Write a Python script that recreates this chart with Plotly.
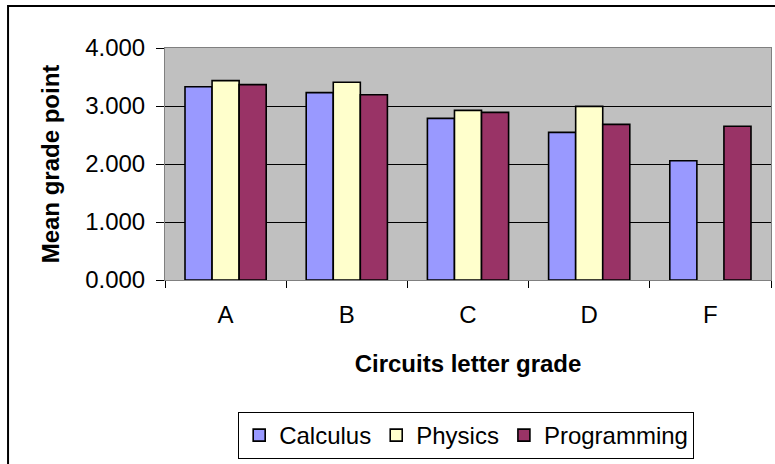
import plotly.graph_objects as go

# ─── Data ────────────────────────────────────────────────────────────────────

grades = ["A", "B", "C", "D", "F"]
calculus = [3.333, 3.230, 2.787, 2.546, 2.057]
physics = [3.437, 3.410, 2.925, 2.994, None]
programming = [3.368, 3.195, 2.890, 2.684, 2.650]

FONT = "Arial, Liberation Sans, sans-serif"

# ─── Figure ──────────────────────────────────────────────────────────────────

fig = go.Figure()

series = [
    ("Calculus", calculus, "#9999FF"),
    ("Physics", physics, "#FFFFCC"),
    ("Programming", programming, "#993366"),
]
for name, vals, color in series:
    fig.add_trace(go.Bar(
        x=grades,
        y=vals,
        name=name,
        marker=dict(color=color, line=dict(color="black", width=1.6)),
    ))

fig.update_layout(
    width=775,
    height=464,
    margin=dict(l=165, r=4, t=48, b=184),
    paper_bgcolor="white",
    plot_bgcolor="#C0C0C0",
    barmode="group",
    bargap=0.33,
    bargroupgap=0,
    font=dict(family=FONT, size=24, color="black"),
    legend=dict(
        orientation="h",
        x=0.497, xanchor="center",
        y=-0.569, yanchor="top",
        bordercolor="black", borderwidth=1,
        font=dict(size=24),
        itemwidth=30,
        tracegroupgap=0,
    ),
    xaxis=dict(
        title=dict(text="<b>Circuits letter grade</b>", font=dict(size=24), standoff=28),
        tickson="boundaries",
        ticks="outside", ticklen=7, tickcolor="black",
        ticklabelstandoff=13,
        showline=True, linecolor="#808080", mirror=True,
        showgrid=False,
    ),
    yaxis=dict(
        title=dict(text="<b>Mean grade point</b>", font=dict(size=24), standoff=18),
        range=[0, 4], dtick=1, tickformat=".3f",
        ticks="outside", ticklen=8, tickcolor="black",
        ticklabelstandoff=6,
        showline=True, linecolor="#808080", mirror=True,
        showgrid=True, gridcolor="black", gridwidth=1,
        zeroline=False,
    ),
    showlegend=True,
)

# outer chart frame (right and bottom edges fall outside the picture)
fig.add_shape(
    type="rect", xref="paper", yref="paper",
    x0=-0.259, x1=1.05, y0=-1.2, y1=1.181,
    line=dict(color="black", width=2),
)

# drop the page's default body margin so the chart sits at the window corner
fig.write_html(
    "out.html",
    config={"displayModeBar": False},
    post_script="document.body.style.margin='0';",
)
